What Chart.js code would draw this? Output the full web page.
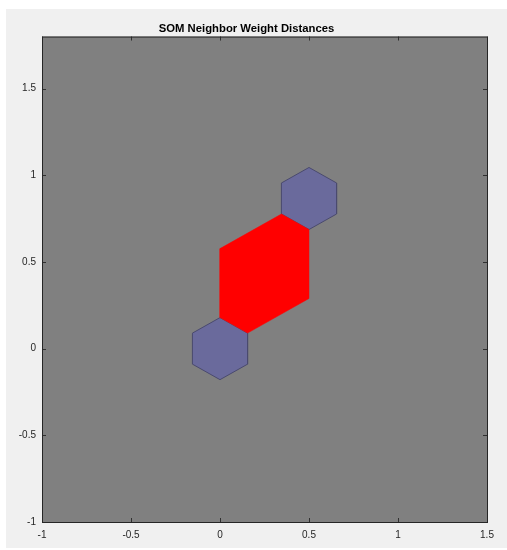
<!DOCTYPE html>
<html>
<head>
<meta charset="utf-8">
<script src="https://cdn.jsdelivr.net/npm/chart.js@4/dist/chart.umd.min.js"></script>
<style>
  html, body { margin: 0; padding: 0; background: #fff; }
  #wrap { position: relative; width: 507px; height: 550px; }
</style>
</head>
<body>
<div id="wrap"><canvas id="somChart"></canvas></div>
<script>
// neuron positions (hextop, 1x2 map)
const neuronX = [0, 0.5];
const neuronY = [0, 0.866];
// neighbor links between neurons
const neighborPairs = [[0, 1]];
const linkColors = ['#ff0000'];

const xTickValues = [-1, -0.5, 0, 0.5, 1, 1.5];
const yTickValues = [-1, -0.5, 0, 0.5, 1, 1.5];
const xRange = [-1, 1.5];
const yRange = [-1, 1.8];

// hexagon half width / vertex radius in data units
const hexW = 0.155;
const hexR = 0.179;
const linkD = 0.577;

function hexPoints(cx, cy) {
  const pts = [
    {x: cx, y: cy + hexR},
    {x: cx + hexW, y: cy + hexR / 2},
    {x: cx + hexW, y: cy - hexR / 2},
    {x: cx, y: cy - hexR},
    {x: cx - hexW, y: cy - hexR / 2},
    {x: cx - hexW, y: cy + hexR / 2}
  ];
  pts.push(pts[0]);
  return pts;
}

function linkPoints(a, b) {
  const ax = neuronX[a], ay = neuronY[a], bx = neuronX[b], by = neuronY[b];
  const pts = [
    {x: ax, y: ay + hexR},
    {x: ax + hexW, y: ay + hexR / 2},
    {x: bx, y: by - linkD},
    {x: bx, y: by - hexR},
    {x: bx - hexW, y: by - hexR / 2},
    {x: ax, y: ay + linkD}
  ];
  pts.push(pts[0]);
  return pts;
}

const datasets = [];
neighborPairs.forEach(function(p, i) {
  datasets.push({
    data: linkPoints(p[0], p[1]),
    showLine: true, fill: 'shape',
    backgroundColor: linkColors[i], borderColor: linkColors[i],
    borderWidth: 0.5, pointRadius: 0, tension: 0
  });
});
neuronX.forEach(function(x, i) {
  datasets.push({
    data: hexPoints(x, neuronY[i]),
    showLine: true, fill: 'shape',
    backgroundColor: '#6a6a9c', borderColor: '#4a4a6e',
    borderWidth: 1, pointRadius: 0, tension: 0
  });
});

// figure background, gray axes, box and inward ticks (MATLAB look)
const matlabFrame = {
  id: 'matlabFrame',
  beforeDraw: function(chart) {
    const ctx = chart.ctx;
    const a = chart.chartArea;
    ctx.save();
    ctx.fillStyle = '#ffffff';
    ctx.fillRect(0, 0, chart.width, chart.height);
    ctx.fillStyle = '#f0f0f0';
    ctx.fillRect(6, 9, chart.width - 6, chart.height - 11);
    ctx.fillStyle = '#808080';
    ctx.fillRect(a.left, a.top, a.right - a.left, a.bottom - a.top);
    ctx.restore();
  },
  afterDatasetsDraw: function(chart) {
    const ctx = chart.ctx;
    const a = chart.chartArea;
    const xs = chart.scales.x, ys = chart.scales.y;
    ctx.save();
    ctx.strokeStyle = '#303030';
    ctx.lineWidth = 1;
    ctx.beginPath();
    xTickValues.forEach(function(v) {
      const px = Math.round(xs.getPixelForValue(v)) + 0.5;
      ctx.moveTo(px, a.bottom); ctx.lineTo(px, a.bottom - 4);
      ctx.moveTo(px, a.top); ctx.lineTo(px, a.top + 4);
    });
    yTickValues.forEach(function(v) {
      const py = Math.round(ys.getPixelForValue(v)) + 0.5;
      ctx.moveTo(a.left, py); ctx.lineTo(a.left + 4, py);
      ctx.moveTo(a.right, py); ctx.lineTo(a.right - 4, py);
    });
    ctx.stroke();
    ctx.strokeStyle = '#262626';
    ctx.strokeRect(a.left + 0.5, a.top + 0.5, a.right - a.left, a.bottom - a.top);
    ctx.restore();
  }
};

const ctx = document.getElementById('somChart').getContext('2d');
new Chart(ctx, {
  type: 'scatter',
  data: { datasets: datasets },
  plugins: [matlabFrame],
  options: {
    responsive: true,
    maintainAspectRatio: false,
    animation: false,
    layout: { padding: { left: 6, right: 20, top: 9, bottom: 0 } },
    plugins: {
      legend: { display: false },
      tooltip: { enabled: false },
      title: {
        display: true,
        text: 'SOM Neighbor Weight Distances',
        color: '#000',
        font: { family: 'Liberation Sans, Arial, sans-serif', size: 11.3, weight: 'bold' },
        padding: { top: 13, bottom: 1 }
      }
    },
    scales: {
      x: {
        type: 'linear',
        min: xRange[0], max: xRange[1],
        grid: { display: false, drawTicks: false },
        border: { display: false },
        afterBuildTicks: function(s) { s.ticks = xTickValues.map(v => ({value: v})); },
        afterFit: function(s) { s.height = 28; },
        ticks: {
          padding: 7, color: '#262626', maxRotation: 0,
          callback: function(v) { return String(v); },
          font: { family: 'Liberation Sans, Arial, sans-serif', size: 10 }
        }
      },
      y: {
        type: 'linear',
        min: yRange[0], max: yRange[1],
        grid: { display: false, drawTicks: false },
        border: { display: false },
        afterBuildTicks: function(s) { s.ticks = yTickValues.map(v => ({value: v})); },
        afterFit: function(s) { s.width = 36; },
        ticks: {
          padding: 6, color: '#262626',
          callback: function(v) { return String(v); },
          font: { family: 'Liberation Sans, Arial, sans-serif', size: 10 }
        }
      }
    }
  }
});
</script>
</body>
</html>
